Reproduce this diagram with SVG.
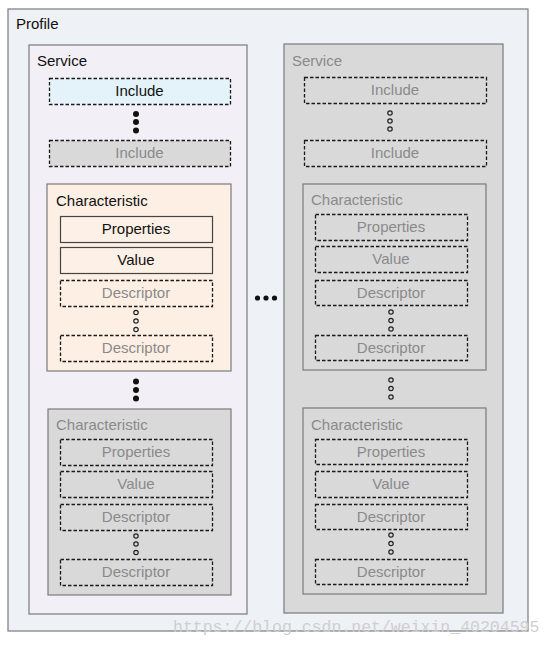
<svg xmlns="http://www.w3.org/2000/svg" width="554" height="647" viewBox="0 0 554 647">
<style>
text{font-family:"Liberation Sans",Arial,sans-serif;font-size:15px;fill:#111}
.g{fill:#8a8a8a}
.c{text-anchor:middle}
.frame{stroke:#7a7a7a;stroke-width:1.2}
.solid{stroke:#444;stroke-width:1.2}
.dash{stroke:#1a1a1a;stroke-width:1.3;stroke-dasharray:3.5,2}
.dot{fill:#111}
.ring{fill:none;stroke:#222;stroke-width:1.2}
.wm{font-family:"Liberation Mono","DejaVu Sans Mono",monospace;font-size:16.5px;fill:#cfcfcf}
</style>
<rect id="profile" x="8" y="9" width="520" height="622" fill="#eef1f6" class="frame"/>
<text x="16" y="29">Profile</text>

<g id="service-left">
<rect x="29" y="45" width="218" height="569" fill="#f2f0f6" class="frame"/>
<text x="37" y="66">Service</text>
</g>
<g id="include-l1">
<rect x="49.5" y="78.5" width="181" height="26" fill="#e3f3f9" class="dash"/>
<text x="139.5" y="96" class="c">Include</text>
</g>
<g id="dots-l1">
<circle cx="136" cy="114" r="3" class="dot"/><circle cx="136" cy="122" r="3" class="dot"/><circle cx="136" cy="130.5" r="3" class="dot"/>
</g>
<g id="include-l2">
<rect x="49.5" y="140.5" width="181" height="26" fill="#d9d9d9" class="dash"/>
<text x="139.5" y="158" class="c g">Include</text>
</g>
<g id="char-l1">
<rect x="47" y="184" width="184" height="187" fill="#fdefe4" class="frame"/>
<text x="56" y="206">Characteristic</text>
<rect x="60.5" y="216.5" width="152" height="26" fill="#fdf0e6" class="solid"/>
<text x="136" y="234" class="c">Properties</text>
<rect x="60.5" y="247.5" width="152" height="26" fill="#fdf0e6" class="solid"/>
<text x="136" y="265" class="c">Value</text>
<rect x="60.5" y="280.5" width="152" height="26" fill="#fdefe4" class="dash"/>
<text x="136" y="298" class="c g">Descriptor</text>
<circle cx="136" cy="312.5" r="2.2" class="ring"/><circle cx="136" cy="321" r="2.2" class="ring"/><circle cx="136" cy="329.5" r="2.2" class="ring"/>
<rect x="60.5" y="335.5" width="152" height="26" fill="#fdefe4" class="dash"/>
<text x="136" y="353" class="c g">Descriptor</text>
</g>
<g id="dots-l2">
<circle cx="136" cy="381.5" r="3" class="dot"/><circle cx="136" cy="390" r="3" class="dot"/><circle cx="136" cy="398.5" r="3" class="dot"/>
</g>
<g id="char-l2">
<rect x="48" y="409" width="183" height="186" fill="#d9d9d9" class="frame"/>
<text x="56" y="430" class="g">Characteristic</text>
<rect x="60.5" y="439.5" width="152" height="26" fill="#d9d9d9" class="dash"/>
<text x="136" y="457" class="c g">Properties</text>
<rect x="60.5" y="471.5" width="152" height="26" fill="#d9d9d9" class="dash"/>
<text x="136" y="489" class="c g">Value</text>
<rect x="60.5" y="504.5" width="152" height="26" fill="#d9d9d9" class="dash"/>
<text x="136" y="522" class="c g">Descriptor</text>
<circle cx="136" cy="536" r="2.2" class="ring"/><circle cx="136" cy="544" r="2.2" class="ring"/><circle cx="136" cy="552.5" r="2.2" class="ring"/>
<rect x="60.5" y="559.5" width="152" height="26" fill="#d9d9d9" class="dash"/>
<text x="136" y="577" class="c g">Descriptor</text>
</g>

<g id="ellipsis">
<circle cx="257.5" cy="298" r="2.6" class="dot"/><circle cx="266" cy="298" r="2.6" class="dot"/><circle cx="274.5" cy="298" r="2.6" class="dot"/>
</g>

<g id="service-right">
<rect x="284" y="44" width="219" height="569" fill="#d9d9d9" class="frame"/>
<text x="292" y="66" class="g">Service</text>
</g>
<g id="include-r1">
<rect x="304.5" y="77.5" width="182" height="26" fill="#d9d9d9" class="dash"/>
<text x="395" y="95" class="c g">Include</text>
</g>
<g id="rings-r1">
<circle cx="390" cy="113" r="2.2" class="ring"/><circle cx="390" cy="121" r="2.2" class="ring"/><circle cx="390" cy="129" r="2.2" class="ring"/>
</g>
<g id="include-r2">
<rect x="304.5" y="140.5" width="182" height="26" fill="#d9d9d9" class="dash"/>
<text x="395" y="158" class="c g">Include</text>
</g>
<g id="char-r1">
<rect x="303" y="184" width="183" height="186" fill="#d9d9d9" class="frame"/>
<text x="311" y="205" class="g">Characteristic</text>
<rect x="315.5" y="214.5" width="152" height="26" fill="#d9d9d9" class="dash"/>
<text x="391" y="232" class="c g">Properties</text>
<rect x="315.5" y="246.5" width="152" height="26" fill="#d9d9d9" class="dash"/>
<text x="391" y="264" class="c g">Value</text>
<rect x="315.5" y="280.5" width="152" height="25" fill="#d9d9d9" class="dash"/>
<text x="391" y="298" class="c g">Descriptor</text>
<circle cx="391" cy="312" r="2.2" class="ring"/><circle cx="391" cy="320.5" r="2.2" class="ring"/><circle cx="391" cy="329" r="2.2" class="ring"/>
<rect x="315.5" y="335.5" width="152" height="25" fill="#d9d9d9" class="dash"/>
<text x="391" y="353" class="c g">Descriptor</text>
</g>
<g id="rings-r2">
<circle cx="391" cy="380" r="2.2" class="ring"/><circle cx="391" cy="388.5" r="2.2" class="ring"/><circle cx="391" cy="397" r="2.2" class="ring"/>
</g>
<g id="char-r2">
<rect x="303" y="408" width="183" height="186" fill="#d9d9d9" class="frame"/>
<text x="311" y="430" class="g">Characteristic</text>
<rect x="315.5" y="439.5" width="152" height="25" fill="#d9d9d9" class="dash"/>
<text x="391" y="457" class="c g">Properties</text>
<rect x="315.5" y="471.5" width="152" height="26" fill="#d9d9d9" class="dash"/>
<text x="391" y="489" class="c g">Value</text>
<rect x="315.5" y="504.5" width="152" height="25" fill="#d9d9d9" class="dash"/>
<text x="391" y="522" class="c g">Descriptor</text>
<circle cx="391" cy="535" r="2.2" class="ring"/><circle cx="391" cy="543.5" r="2.2" class="ring"/><circle cx="391" cy="552" r="2.2" class="ring"/>
<rect x="315.5" y="559.5" width="152" height="25" fill="#d9d9d9" class="dash"/>
<text x="391" y="577" class="c g">Descriptor</text>
</g>
<g id="connectors"></g>
<text x="173" y="632" class="wm">https://blog.csdn.net/weixin_40204595</text>
</svg>
